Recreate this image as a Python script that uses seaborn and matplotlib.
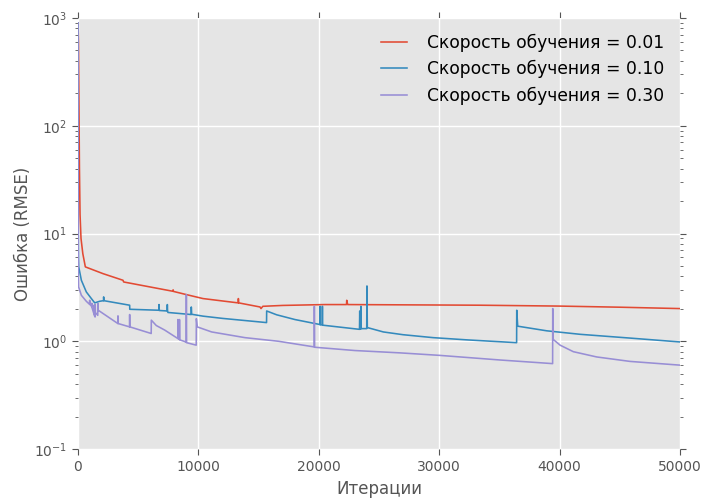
import matplotlib
matplotlib.use("Agg")
import matplotlib.pyplot as plt
import numpy as np
import pandas as pd
import seaborn as sns

# Training error (RMSE) against iteration for three learning rates
iter_001 = [0, 40, 80, 120, 170, 250, 400, 610, 2080, 3740, 3790, 7880, 7900, 7930,
            9000, 10380, 13300, 13320, 13350, 15120, 15200, 15350, 17000, 20520,
            22300, 22320, 22400, 26000, 33400, 40000, 45000, 50000]
rmse_001 = [900, 600, 150, 40, 15, 9, 6.5, 4.9, 4.24, 3.68, 3.55, 2.91, 3.0, 2.9,
            2.71, 2.49, 2.27, 2.49, 2.27, 2.08, 2.01, 2.11, 2.15, 2.19,
            2.19, 2.4, 2.19, 2.18, 2.16, 2.12, 2.07, 2.01]

iter_010 = [0, 8, 20, 40, 60, 280, 690, 1110, 1390, 1800, 2120, 2130, 2150,
            4290, 4300, 6720, 6730, 6750, 7400, 7420, 7440, 7470, 9400, 9410, 9440,
            10380, 12000, 15660, 15670, 16500, 18020, 20090, 20100, 20120,
            20280, 20300, 20320, 23380, 23400, 23420, 23480, 23500, 23520,
            23980, 24000, 24030, 25360, 27000, 29500, 32300, 36430, 36440, 36520,
            38930, 41700, 45850, 50000]
rmse_010 = [900, 60, 12, 6, 4.9, 3.68, 2.87, 2.49, 2.27, 2.35, 2.38, 2.58, 2.38,
            2.16, 1.98, 1.94, 2.19, 1.93, 1.91, 2.19, 1.91, 1.85, 1.77, 2.08, 1.78,
            1.71, 1.63, 1.49, 1.91, 1.76, 1.59, 1.43, 2.11, 1.42,
            1.42, 2.11, 1.41, 1.29, 1.91, 1.30, 1.30, 2.11, 1.31,
            1.31, 3.26, 1.34, 1.22, 1.15, 1.08, 1.03, 0.97, 1.94, 1.38,
            1.25, 1.16, 1.07, 0.985]

iter_030 = [0, 5, 15, 30, 50, 280, 690, 960, 970, 985, 1140, 1150, 1165,
            1320, 1330, 1345, 1420, 1430, 1445, 1640, 1660, 1680,
            3310, 3320, 3335, 4280, 4290, 4305, 6080, 6090, 6500, 7200,
            8290, 8300, 8320, 8420, 8430, 8450, 8800, 8980, 9000, 9020,
            9820, 9830, 9900, 11100, 13870, 16640, 19620, 19630, 19650,
            23000, 26750, 30000, 35050, 39420, 39430, 39470, 40040, 41140,
            43080, 45850, 50000]
rmse_030 = [900, 50, 8, 4, 3.19, 2.67, 2.35, 2.2, 2.4, 2.2, 2.1, 2.25, 2.05,
            1.8, 2.16, 1.75, 1.68, 2.2, 1.85, 1.74, 2.24, 1.94,
            1.46, 1.72, 1.46, 1.36, 1.77, 1.36, 1.18, 1.57, 1.4, 1.27,
            1.06, 1.59, 1.06, 1.04, 1.59, 1.03, 1.0, 0.98, 2.71, 0.97,
            0.92, 1.62, 1.36, 1.22, 1.08, 1.0, 0.886, 2.11, 0.88,
            0.82, 0.78, 0.74, 0.67, 0.62, 2.01, 1.04, 0.92, 0.80,
            0.715, 0.65, 0.60]

labels = ["Скорость обучения = 0.01",
          "Скорость обучения = 0.10",
          "Скорость обучения = 0.30"]
colors = ["#E24A33", "#348ABD", "#988ED5"]

frames = []
for lab, xs, ys in zip(labels, [iter_001, iter_010, iter_030],
                       [rmse_001, rmse_010, rmse_030]):
    frames.append(pd.DataFrame({"iter": xs, "rmse": ys, "rate": lab}))
df = pd.concat(frames, ignore_index=True)

sns.set_style({
    "axes.facecolor": "#E5E5E5",
    "axes.edgecolor": "white",
    "grid.color": "white",
    "axes.grid": True,
})
plt.rcParams["font.family"] = ["DejaVu Sans"]

fig = plt.figure(figsize=(7.02, 4.98), dpi=100)
ax = fig.add_axes([78 / 702, 1 - 449 / 498, 602 / 702, 431 / 498])

sns.lineplot(data=df, x="iter", y="rmse", hue="rate", palette=colors,
             estimator=None, sort=False, linewidth=1.15, ax=ax, legend=False)

ax.set_yscale("log")
ax.set_xlim(0, 50000)
ax.set_ylim(0.1, 1000)
ax.set_xticks([0, 10000, 20000, 30000, 40000, 50000])
ax.grid(True, which="major", color="white", linewidth=1.0)
ax.grid(False, which="minor")
ax.set_axisbelow(True)
for s in ax.spines.values():
    s.set_visible(False)

ax.tick_params(which="both", direction="out", top=True, right=True,
               color="#555555", labelcolor="#555555", labelsize=10)
ax.tick_params(which="major", length=4.5, width=0.8)
ax.tick_params(which="minor", length=2.5, width=0.6)
ax.tick_params(axis="x", which="minor", top=False, bottom=False)

ax.set_xlabel("Итерации", fontsize=12, color="#555555", labelpad=4)
ax.set_ylabel("Ошибка (RMSE)", fontsize=12, color="#555555", labelpad=1)

handles = [plt.Line2D([], [], color=c, linewidth=1.15) for c in colors]
ax.legend(handles, labels, loc="upper right", frameon=False, fontsize=12.3,
          handlelength=1.5, handletextpad=1.2)

fig.savefig("out.png", dpi=100)
